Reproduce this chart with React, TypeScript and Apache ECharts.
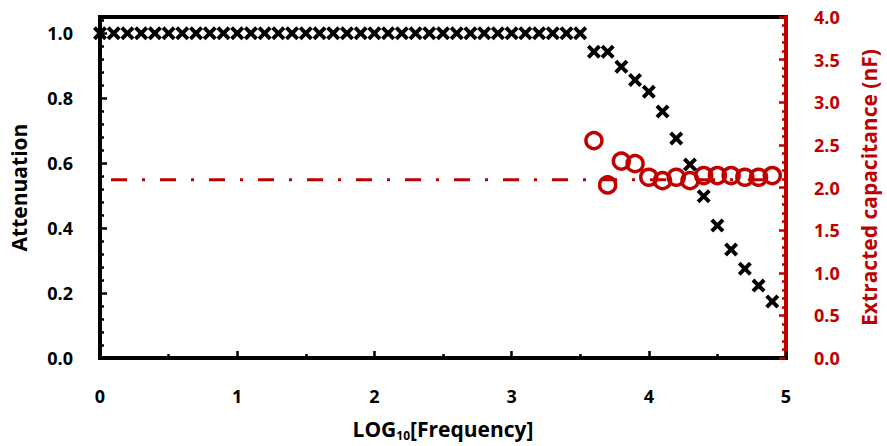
import React, { useEffect, useRef } from "react";
import * as echarts from "echarts";

const logFreq: number[] = [
  0, 0.1, 0.2, 0.3, 0.4, 0.5, 0.6, 0.7, 0.8, 0.9,
  1.0, 1.1, 1.2, 1.3, 1.4, 1.5, 1.6, 1.7, 1.8, 1.9,
  2.0, 2.1, 2.2, 2.3, 2.4, 2.5, 2.6, 2.7, 2.8, 2.9,
  3.0, 3.1, 3.2, 3.3, 3.4, 3.5, 3.6, 3.7, 3.8, 3.9,
  4.0, 4.1, 4.2, 4.3, 4.4, 4.5, 4.6, 4.7, 4.8, 4.9,
];
const attenuation: number[] = [
  1, 1, 1, 1, 1, 1, 1, 1, 1, 1,
  1, 1, 1, 1, 1, 1, 1, 1, 1, 1,
  1, 1, 1, 1, 1, 1, 1, 1, 1, 1,
  1, 1, 1, 1, 1, 1, 0.943, 0.943, 0.897, 0.856,
  0.82, 0.759, 0.676, 0.596, 0.498, 0.408, 0.334, 0.275, 0.223, 0.174,
];
const capFreq: number[] = [3.6, 3.7, 3.8, 3.9, 4.0, 4.1, 4.2, 4.3, 4.4, 4.5, 4.6, 4.7, 4.8, 4.9];
const capacitance: number[] = [2.55, 2.03, 2.31, 2.28, 2.12, 2.08, 2.12, 2.08, 2.14, 2.14, 2.14, 2.12, 2.12, 2.14];
const refLineX: number[] = [0, 4.9];
const refLineValue = 2.09;

const xTicks = { min: 0, max: 5, interval: 1 };
const leftTicks = { min: 0, max: 1.05, interval: 0.2 };
const rightTicks = { min: 0, max: 4, interval: 0.5 };

const RED = "#c00000";
const FONT = "Open Sans";
const X_SYMBOL = "path://M2,0L5,3L8,0L10,2L7,5L10,8L8,10L5,7L2,10L0,8L3,5L0,2Z";

export default function App() {
  const ref = useRef<HTMLDivElement>(null);
  useEffect(() => {
    if (!ref.current) return;
    const chart = echarts.init(ref.current, null, { renderer: "svg" });
    const option: any = {
      animation: false,
      backgroundColor: "#ffffff",
      textStyle: { fontFamily: FONT },
      grid: {
        left: 99,
        right: 97,
        top: 17,
        bottom: 86,
        show: true,
        borderColor: "#000",
        borderWidth: 4,
        containLabel: false,
      },
      xAxis: {
        type: "value",
        min: xTicks.min,
        max: xTicks.max,
        interval: xTicks.interval,
        axisLine: { show: true, onZero: false, lineStyle: { color: "#000", width: 4 } },
        axisTick: { show: true, inside: true, length: 7, lineStyle: { color: "#000", width: 2.5 } },
        minorTick: { show: true, splitNumber: 2, length: 4, lineStyle: { color: "#000", width: 2.5 } },
        splitLine: { show: false },
        axisLabel: {
          margin: 29,
          color: "#000",
          fontSize: 18,
          fontWeight: "bold",
          fontFamily: FONT,
          formatter: (v: number) => String(Math.round(v)),
        },
        name: "{a|LOG}{s|10}{a|[Frequency]}",
        nameLocation: "middle",
        nameGap: 58,
        nameTextStyle: {
          rich: {
            a: { fontSize: 21, fontWeight: "bold", color: "#000", fontFamily: FONT, lineHeight: 26 },
            s: { fontSize: 12, fontWeight: "bold", color: "#000", fontFamily: FONT, padding: [12, 0, 0, 0], lineHeight: 26 },
          },
        },
      },
      yAxis: [
        {
          type: "value",
          position: "left",
          min: leftTicks.min,
          max: leftTicks.max,
          interval: leftTicks.interval,
          axisLine: { show: true, onZero: false, lineStyle: { color: "#000", width: 4 } },
          axisTick: { show: true, inside: true, length: 7, lineStyle: { color: "#000", width: 2.5 } },
          minorTick: { show: true, splitNumber: 5, length: 4, lineStyle: { color: "#000", width: 2.5 } },
          splitLine: { show: false },
          axisLabel: {
            margin: 27,
            color: "#000",
            fontSize: 18,
            fontWeight: "bold",
            fontFamily: FONT,
            formatter: (v: number) => (Math.abs(v * 5 - Math.round(v * 5)) < 1e-6 ? v.toFixed(1) : ""),
          },
          name: "Attenuation",
          nameLocation: "middle",
          nameRotate: 90,
          nameGap: 71,
          nameTextStyle: { fontSize: 21, fontWeight: "bold", color: "#000", fontFamily: FONT },
        },
        {
          type: "value",
          position: "right",
          min: rightTicks.min,
          max: rightTicks.max,
          interval: rightTicks.interval,
          axisLine: { show: true, onZero: false, lineStyle: { color: RED, width: 4 } },
          axisTick: { show: true, inside: true, length: 7, lineStyle: { color: RED, width: 2.5 } },
          minorTick: { show: true, splitNumber: 5, length: 4, lineStyle: { color: RED, width: 2.5 } },
          splitLine: { show: false },
          axisLabel: {
            margin: 28,
            color: RED,
            fontSize: 18,
            fontWeight: "bold",
            fontFamily: FONT,
            formatter: (v: number) => v.toFixed(1),
          },
          name: "Extracted capacitance (nF)",
          nameLocation: "middle",
          nameRotate: 90,
          nameGap: 72,
          nameTextStyle: { fontSize: 21, fontWeight: "bold", color: RED, fontFamily: FONT },
        },
      ],
      series: [
        {
          type: "line",
          yAxisIndex: 1,
          data: refLineX.map((x) => [x, refLineValue]),
          showSymbol: false,
          symbol: "none",
          lineStyle: { color: RED, width: 3, type: [16, 15, 3, 15], dashOffset: 38, cap: "butt" },
          z: 2,
        },
        {
          type: "scatter",
          yAxisIndex: 1,
          data: capFreq.map((x, i) => [x, capacitance[i]]),
          symbol: "circle",
          symbolSize: 16,
          itemStyle: { color: "rgba(255,255,255,0)", borderColor: RED, borderWidth: 3.5, opacity: 1 },
          z: 3,
        },
        {
          type: "scatter",
          yAxisIndex: 0,
          data: logFreq.map((x, i) => [x, attenuation[i]]),
          symbol: X_SYMBOL,
          symbolSize: 14,
          itemStyle: { color: "#000", opacity: 1 },
          z: 4,
        },
      ],
    };
    chart.setOption(option);
    return () => chart.dispose();
  }, []);
  return (
    <div
      ref={ref}
      style={{ position: "fixed", left: 0, top: 0, width: 887, height: 446, background: "#fff" }}
    />
  );
}
